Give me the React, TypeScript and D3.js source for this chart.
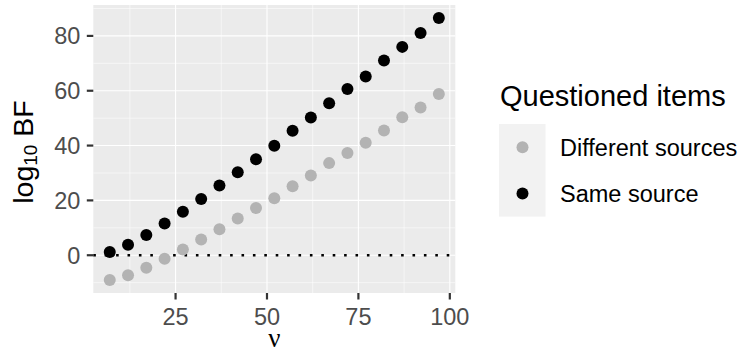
import React from "react";
import * as d3 from "d3";

const nu = [7, 12, 17, 22, 27, 32, 37, 42, 47, 52, 57, 62, 67, 72, 77, 82, 87, 92, 97];
const sameSource = [1.2, 3.8, 7.4, 11.6, 15.9, 20.5, 25.4, 30.3, 35.0, 39.9, 45.4, 50.2, 55.4, 60.6, 65.2, 71.0, 76.0, 81.1, 86.5];
const differentSources = [-9.0, -7.3, -4.6, -1.3, 2.1, 5.7, 9.5, 13.4, 17.2, 20.8, 25.2, 29.1, 33.6, 37.3, 41.0, 45.5, 50.3, 53.9, 58.8];
const xTicks = [25, 50, 75, 100];
const yTicks = [0, 20, 40, 60, 80];
const legendLabels = ["Different sources", "Same source"];
const legendColors = ["#B3B3B3", "#000000"];

const W = 739;
const H = 358;
const panel = { left: 93.3, right: 455.3, top: 5, bottom: 293 };
const FONT = "'Liberation Sans', Arial, Helvetica, sans-serif";

function expand(lo: number, hi: number): [number, number] {
  const pad = (hi - lo) * 0.05;
  return [lo - pad, hi + pad];
}

export default function App() {
  const xDom = expand(d3.min(nu)!, d3.max(nu)!);
  const allY = [...sameSource, ...differentSources];
  const yDom = expand(d3.min(allY)!, d3.max(allY)!);
  const x = d3.scaleLinear().domain(xDom).range([panel.left, panel.right]);
  const y = d3.scaleLinear().domain(yDom).range([panel.bottom, panel.top]);

  const xMinor = xTicks.map((t) => t - 12.5).filter((t) => t > xDom[0] && t < xDom[1]);
  const yMinor = [-10, 10, 30, 50, 70, 90].filter((t) => t > yDom[0] && t < yDom[1]);

  const r = 6;
  const cx = (panel.left + panel.right) / 2;
  const cy = (panel.top + panel.bottom) / 2;

  const series = [
    { values: differentSources, color: legendColors[0] },
    { values: sameSource, color: legendColors[1] },
  ];

  return (
    <svg width={W} height={H} style={{ position: "absolute", left: 0, top: 0 }} fontFamily={FONT}>
      <rect width={W} height={H} fill="#FFFFFF" />
      {/* panel */}
      <rect x={panel.left} y={panel.top} width={panel.right - panel.left} height={panel.bottom - panel.top} fill="#EBEBEB" />
      {yMinor.map((t) => (
        <line key={"ym" + t} x1={panel.left} x2={panel.right} y1={y(t)} y2={y(t)} stroke="#FFFFFF" strokeWidth={0.55} />
      ))}
      {xMinor.map((t) => (
        <line key={"xm" + t} y1={panel.top} y2={panel.bottom} x1={x(t)} x2={x(t)} stroke="#FFFFFF" strokeWidth={0.55} />
      ))}
      {yTicks.map((t) => (
        <line key={"yg" + t} x1={panel.left} x2={panel.right} y1={y(t)} y2={y(t)} stroke="#FFFFFF" strokeWidth={1.1} />
      ))}
      {xTicks.map((t) => (
        <line key={"xg" + t} y1={panel.top} y2={panel.bottom} x1={x(t)} x2={x(t)} stroke="#FFFFFF" strokeWidth={1.1} />
      ))}
      {/* reference line at zero */}
      <line x1={panel.left} x2={panel.right} y1={y(0)} y2={y(0)} stroke="#000000" strokeWidth={2.6} strokeDasharray="2.6 8.8" />
      {/* points */}
      {series.map((s, si) =>
        s.values.map((v, i) => <circle key={si + "-" + i} cx={x(nu[i])} cy={y(v)} r={r} fill={s.color} />)
      )}
      {/* axes */}
      {yTicks.map((t) => (
        <g key={"yt" + t}>
          <line x1={panel.left - 6.5} x2={panel.left} y1={y(t)} y2={y(t)} stroke="#333333" strokeWidth={2.2} />
          <text x={panel.left - 13} y={y(t)} dy="0.36em" textAnchor="end" fontSize={23.5} fill="#4D4D4D">{t}</text>
        </g>
      ))}
      {xTicks.map((t) => (
        <g key={"xt" + t}>
          <line x1={x(t)} x2={x(t)} y1={panel.bottom} y2={panel.bottom + 6.5} stroke="#333333" strokeWidth={2.2} />
          <text x={x(t)} y={325} textAnchor="middle" fontSize={23.5} fill="#4D4D4D">{t}</text>
        </g>
      ))}
      <text x={cx} y={347} textAnchor="middle" fontSize={27} fontFamily="'Liberation Serif', 'DejaVu Serif', serif">ν</text>
      <text transform={`translate(33,${cy + 3}) rotate(-90)`} textAnchor="middle" fontSize={28.5}>
        <tspan>log</tspan>
        <tspan fontSize={19} dy={4}>10</tspan>
        <tspan dy={-4}> BF</tspan>
      </text>
      {/* legend */}
      <text x={500} y={106} fontSize={29}>Questioned items</text>
      <rect x={499} y={124} width={46.5} height={92.6} fill="#F2F2F2" />
      {legendLabels.map((lab, i) => {
        const ky = 124 + 23.15 + i * 46.3;
        return (
          <g key={lab}>
            <circle cx={522.5} cy={ky} r={r} fill={legendColors[i]} />
            <text x={560} y={ky} dy="0.36em" fontSize={23.5}>{lab}</text>
          </g>
        );
      })}
    </svg>
  );
}
